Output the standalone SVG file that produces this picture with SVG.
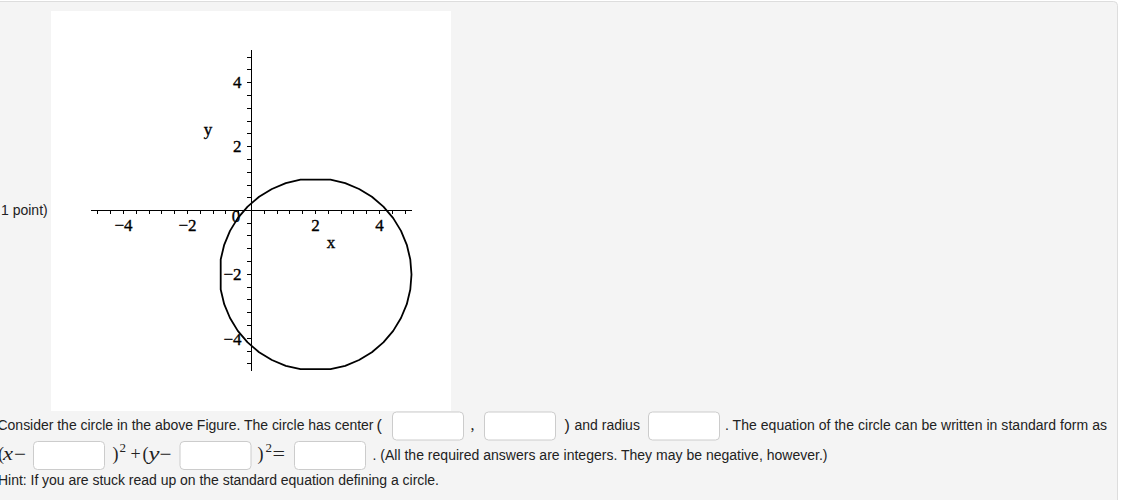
<svg xmlns="http://www.w3.org/2000/svg" width="1124" height="500" viewBox="0 0 1124 500">
<style>
.t{font-family:"Liberation Sans",Arial,sans-serif;font-size:14px;fill:#222}
.m{font-family:"Liberation Serif","Times New Roman",serif;font-size:18px;fill:#222}
.mi{font-family:"Liberation Serif","Times New Roman",serif;font-size:18px;font-style:italic;fill:#222}
.sup{font-family:"Liberation Serif","Times New Roman",serif;font-size:13px;fill:#222}
.lbl{font-family:"Liberation Serif","Times New Roman",serif;font-size:17px;fill:#000;stroke:#000;stroke-width:0.35}
.box{fill:#fff;stroke:#ccc;stroke-width:1}
.ax{stroke:#000;stroke-width:1;fill:none}
</style>
<defs>
<rect id="inp" class="box" width="71" height="28" rx="4"/>
</defs>
<rect x="0" y="0" width="1124" height="500" fill="#fff"/>
<g id="page">
<rect x="-10" y="1.5" width="1127.5" height="520" rx="4" fill="#f4f4f4" stroke="#ddd" stroke-width="1"/>
</g>
<g id="figure">
<rect x="51" y="11" width="400" height="400" fill="#fff"/>
<g id="axes" shape-rendering="crispEdges">
<path class="ax" d="M251.5 50V371M91 210.5H411.5"/>
<path class="ax" d="M247 57.1h4.5M247 69.9h4.5M247 82.7h4.5M247 95.5h4.5M247 108.3h4.5M247 121.1h4.5M247 133.9h4.5M247 146.7h4.5M247 159.5h4.5M247 172.3h4.5M247 185.1h4.5M247 197.9h4.5M247 223.1h4.5M247 235.9h4.5M247 248.7h4.5M247 261.5h4.5M247 274.3h4.5M247 287.1h4.5M247 299.9h4.5M247 312.7h4.5M247 325.5h4.5M247 338.3h4.5M247 351.1h4.5M247 363.9h4.5"/>
<path class="ax" d="M97.9 210.5v3.5M110.7 210.5v3.5M123.5 210.5v3.5M136.3 210.5v3.5M149.1 210.5v3.5M161.9 210.5v3.5M174.7 210.5v3.5M187.5 210.5v3.5M200.3 210.5v3.5M213.1 210.5v3.5M225.9 210.5v3.5M238.7 210.5v3.5M264.3 210.5v3.5M277.1 210.5v3.5M289.9 210.5v3.5M302.7 210.5v3.5M315.5 210.5v3.5M328.3 210.5v3.5M341.1 210.5v3.5M353.9 210.5v3.5M366.7 210.5v3.5M379.5 210.5v3.5M392.3 210.5v3.5M405.1 210.5v3.5"/>
</g>
<g id="ticklabels">
<text class="lbl" x="123.5" y="231" text-anchor="middle">−4</text>
<text class="lbl" x="187.5" y="231" text-anchor="middle">−2</text>
<text class="lbl" x="236" y="222" text-anchor="middle">0</text>
<text class="lbl" x="315.5" y="231" text-anchor="middle">2</text>
<text class="lbl" x="379.5" y="231" text-anchor="middle">4</text>
<text class="lbl" x="241.5" y="88" text-anchor="end">4</text>
<text class="lbl" x="241.5" y="152" text-anchor="end">2</text>
<text class="lbl" x="241.5" y="280" text-anchor="end">−2</text>
<text class="lbl" x="241.5" y="345" text-anchor="end">−4</text>
<text class="lbl" x="208" y="134.5" text-anchor="middle">y</text>
<text class="lbl" x="331" y="248" text-anchor="middle">x</text>
</g>
<g id="circle">
<polygon fill="none" stroke="#000" stroke-width="1.8" stroke-linejoin="round" points="411.5,274.5 410.3,259.5 406.8,244.8 401.0,230.9 393.2,218.1 383.4,206.6 371.9,196.8 359.1,189.0 345.2,183.2 330.5,179.7 300.5,179.7 285.8,183.2 271.9,189.0 259.1,196.8 247.6,206.6 237.8,218.1 230.0,230.9 224.2,244.8 220.7,259.5 220.7,289.5 224.2,304.2 230.0,318.0 237.8,330.9 247.6,342.4 259.1,352.2 271.9,360.0 285.8,365.8 300.5,369.2 330.5,369.2 345.2,365.8 359.1,360.0 371.9,352.2 383.4,342.4 393.2,330.9 401.0,318.0 406.8,304.2 410.3,289.5"/>
</g>
</g>
<g id="question">
<text class="t" x="1" y="215">1 point)</text>
<text class="t" x="-2.5" y="430" textLength="376" lengthAdjust="spacing">Consider the circle in the above Figure. The circle has center</text>
<text class="t" x="376.5" y="430.5" style="font-size:16px">(</text>
<use href="#inp" x="392.5" y="412"/>
<text class="m" x="470.5" y="430" style="font-size:16px">,</text>
<use href="#inp" x="484.5" y="412"/>
<text class="t" x="564.5" y="430.5" style="font-size:16px">)</text>
<text class="t" x="574.5" y="430">and radius</text>
<use href="#inp" x="648.5" y="412"/>
<text class="t" x="725" y="430" textLength="382" lengthAdjust="spacing">. The equation of the circle can be written in standard form as</text>
<text class="m" x="-2" y="460">(</text>
<text class="mi" x="3" y="460" textLength="10" lengthAdjust="spacingAndGlyphs">x</text>
<text class="m" x="14" y="460" textLength="12" lengthAdjust="spacingAndGlyphs">−</text>
<use href="#inp" x="33.5" y="441.5"/>
<text class="m" x="112.5" y="460">)</text>
<text class="sup" x="119.5" y="452">2</text>
<text class="m" x="130.5" y="460">+</text>
<text class="m" x="142.5" y="460">(</text>
<text class="mi" x="148.5" y="460" textLength="11" lengthAdjust="spacingAndGlyphs">y</text>
<text class="m" x="159.5" y="460" textLength="12" lengthAdjust="spacingAndGlyphs">−</text>
<use href="#inp" x="180" y="441.5"/>
<text class="m" x="257.5" y="460">)</text>
<text class="sup" x="265.5" y="452">2</text>
<text class="m" x="272.5" y="460" textLength="12.5" lengthAdjust="spacingAndGlyphs">=</text>
<use href="#inp" x="294.5" y="441.5"/>
<text class="t" x="372.5" y="460" textLength="455" lengthAdjust="spacing">. (All the required answers are integers. They may be negative, however.)</text>
<text class="t" x="-2" y="485" textLength="441" lengthAdjust="spacing">Hint: If you are stuck read up on the standard equation defining a circle.</text>
</g>
</svg>
